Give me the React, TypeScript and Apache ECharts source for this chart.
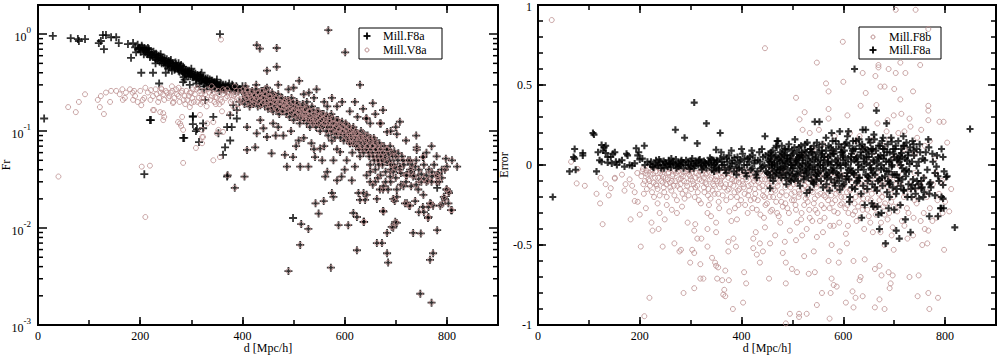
import React, { useEffect, useRef } from "react";
import * as echarts from "echarts";

// ---------------- DATA ----------------
// Left panel: Fr vs d [Mpc/h] (log y)
// Points where Mill.F8a (+) and Mill.V8a (o) coincide
const leftBoth: number[][] = [
  [402,0.27],[405,0.24],[408,0.22],[410,0.26],[412,0.2],[415,0.23],[418,0.25],[420,0.21],[406,0.29],[416,0.19],
  [422,0.24],[424,0.2],[426,0.27],[428,0.22],[430,0.18],[432,0.25],[434,0.21],[436,0.23],[438,0.19],[440,0.26],[427,0.3],
  [442,0.22],[444,0.18],[446,0.24],[448,0.2],[450,0.17],[452,0.23],[454,0.21],[456,0.19],[458,0.25],[460,0.16],[445,0.27],
  [462,0.2],[464,0.22],[466,0.17],[468,0.19],[470,0.24],[472,0.15],[474,0.2],[476,0.18],[478,0.22],[480,0.16],
  [482,0.19],[484,0.21],[486,0.15],[488,0.18],[490,0.2],[492,0.14],[494,0.17],[496,0.22],[498,0.16],[500,0.13],
  [502,0.18],[504,0.15],[506,0.2],[508,0.14],[510,0.16],[512,0.12],[514,0.17],[516,0.14],[518,0.19],[520,0.13],
  [522,0.15],[524,0.17],[526,0.12],[528,0.14],[530,0.16],[532,0.11],[534,0.13],[536,0.18],[538,0.12],[540,0.15],
  [542,0.13],[544,0.11],[546,0.16],[548,0.12],[550,0.14],[552,0.1],[554,0.13],[556,0.15],[558,0.11],[560,0.12],
  [562,0.14],[564,0.1],[566,0.12],[568,0.09],[570,0.13],[572,0.11],[574,0.15],[576,0.1],[578,0.12],[580,0.085],
  [582,0.11],[584,0.13],[586,0.095],[588,0.1],[590,0.12],[592,0.085],[594,0.1],[596,0.11],[598,0.08],[600,0.095],
  [602,0.12],[605,0.085],[608,0.1],[611,0.075],[614,0.09],[617,0.11],[620,0.08],
  [623,0.095],[626,0.07],[629,0.085],[632,0.1],[635,0.065],[638,0.08],[641,0.09],[644,0.07],[647,0.06],[650,0.085],
  [653,0.07],[656,0.055],[659,0.08],[662,0.065],[665,0.05],[668,0.075],[671,0.06],[674,0.045],[677,0.07],[680,0.055],
  [684,0.065],[688,0.05],[692,0.06],[696,0.045],[700,0.055],
  [704,0.05],[708,0.04],[712,0.055],[716,0.045],[720,0.035],[724,0.05],[728,0.04],[732,0.045],[736,0.035],[740,0.05],
  [745,0.04],[750,0.03],[755,0.045],[760,0.035],[765,0.04],[770,0.03],[775,0.045],[780,0.035],[785,0.03],[790,0.04],
  [401,0.21],[403,0.25],[404,0.19],[407,0.23],[409,0.27],[411,0.22],[413,0.24],[414,0.18],[417,0.22],[419,0.26],
  [421,0.19],[423,0.23],[425,0.21],[429,0.25],[431,0.2],[433,0.23],[435,0.185],[437,0.26],[439,0.22],[441,0.2],
  [443,0.245],[447,0.21],[449,0.185],[451,0.25],[453,0.19],[455,0.225],[457,0.17],[459,0.21],[461,0.235],[463,0.18],
  [465,0.2],[467,0.225],[469,0.165],[471,0.2],[473,0.18],[475,0.215],[477,0.16],[479,0.19],[481,0.175],[483,0.2],
  [485,0.185],[487,0.165],[489,0.21],[491,0.17],[493,0.19],[495,0.155],[497,0.18],[499,0.2],
  [501,0.165],[503,0.145],[505,0.175],[507,0.19],[509,0.155],[511,0.17],[513,0.135],[515,0.16],[517,0.18],[519,0.15],
  [521,0.14],[523,0.165],[525,0.15],[527,0.175],[529,0.13],[531,0.145],[533,0.16],[535,0.14],[537,0.125],[539,0.165],
  [541,0.14],[543,0.12],[545,0.15],[547,0.135],[549,0.16],[551,0.125],[553,0.145],[555,0.115],[557,0.135],[559,0.15],
  [561,0.12],[563,0.13],[565,0.145],[567,0.11],[569,0.125],[571,0.14],[573,0.1],[575,0.12],[577,0.135],[579,0.105],
  [581,0.12],[583,0.095],[585,0.115],[587,0.13],[589,0.105],[591,0.095],[593,0.115],[595,0.125],[597,0.1],[599,0.11],
  [601,0.09],[603,0.105],[604,0.115],[606,0.095],[607,0.08],[609,0.11],[610,0.09],[612,0.1],[613,0.085],[615,0.105],
  [616,0.075],[618,0.095],[619,0.085],[621,0.1],[622,0.07],[624,0.085],[625,0.095],[627,0.08],[628,0.065],[630,0.09],
  [631,0.075],[633,0.085],[634,0.07],[636,0.095],[637,0.06],[639,0.075],[640,0.085],[642,0.065],[643,0.08],[645,0.09],
  [646,0.07],[648,0.055],[649,0.075],[651,0.065],[652,0.08],[654,0.06],[655,0.07],[657,0.085],[658,0.05],[660,0.065],
  [661,0.075],[663,0.055],[664,0.07],[666,0.06],[667,0.045],[669,0.065],[670,0.055],[672,0.07],[673,0.05],[675,0.06],
  [678,0.052],[681,0.065],[683,0.048],[686,0.058],[689,0.07],[691,0.045],[694,0.055],[697,0.062],[699,0.042],
  [428,0.77],[434,0.71],[467,0.72],[448,0.42],[467,0.46],[511,0.33],[568,1.1],[601,0.65],[630,0.3],[448,0.28],
  [526,0.2],[566,0.18],[636,0.17],[675,0.165],[643,0.135],[669,0.12],[655,0.194],[642,0.135],[708,0.125],[671,0.12],
  [702,0.093],[683,0.098],[741,0.068],[753,0.054],[798,0.052],[820,0.043],[796,0.04],[783,0.037],[800,0.025],[804,0.023],
  [771,0.034],[763,0.031],[755,0.032],[734,0.034],[722,0.035],[728,0.05],[738,0.043],[714,0.05],[708,0.043],[695,0.038],
  [689,0.034],[675,0.025],[663,0.02],[643,0.022],[702,0.021],[718,0.018],[726,0.017],[753,0.0165],[769,0.0178],[791,0.0178],
  [796,0.02],[808,0.0153],[745,0.0146],[755,0.0146],[763,0.0127],[675,0.015],[699,0.0116],[692,0.0103],[683,0.0089],[734,0.0089],
  [749,0.0088],[781,0.0095],[638,0.0116],
  [371,0.035],[385,0.026],[404,0.034],[490,0.0036],[573,0.0039],[748,0.0021],[770,0.0017],[773,0.0055],[767,0.0047],[685,0.0044],
  [624,0.0059],[515,0.011],[529,0.0098],[513,0.0067],[588,0.0107],[607,0.0107],[663,0.007],[673,0.007],[683,0.0055],[695,0.0101],
  [702,0.0113],[617,0.0143],[624,0.013],[637,0.0116],[676,0.0148],[543,0.018],[549,0.0141],[559,0.019],[764,0.013],[787,0.017],
  [810,0.0153],[803,0.018],[794,0.021],[803,0.024],[799,0.025],[578,0.021],[575,0.023],[585,0.031],[594,0.034],[562,0.034],
  [614,0.031],[627,0.023],[637,0.023],[630,0.0195],[640,0.0195],[669,0.025],[676,0.027],[685,0.025],[702,0.025],
  [695,0.02],[698,0.019],[722,0.018],[728,0.017],[738,0.019],[744,0.025],[754,0.022],[764,0.0165],[767,0.018],[773,0.017],
  [425,0.068],[441,0.107],[409,0.11],[409,0.064],[428,0.095],[448,0.087],[457,0.059],[483,0.057],[487,0.043],[499,0.054],
  [513,0.043],[529,0.043],[542,0.054],[552,0.066],[556,0.05],[566,0.038],[578,0.05],[591,0.061],[604,0.05],[610,0.075],
  [620,0.043],[643,0.035],[705,0.059],[741,0.064],[754,0.054],[800,0.043],[781,0.035],
  [470,0.11],[495,0.1],[520,0.085],[535,0.075],[560,0.07],[585,0.065],[615,0.06],[650,0.045],[660,0.04],[690,0.03],
  [710,0.028],[730,0.027],[650,0.03],[665,0.033],[680,0.038],[600,0.04],[540,0.065],[510,0.08],[480,0.09],[460,0.12],
  [435,0.13],[465,0.09],[505,0.07],[575,0.08],[630,0.055],
  [470,0.3],[490,0.27],[520,0.24],[540,0.22],[560,0.2],[585,0.18],[610,0.16],[625,0.14],[650,0.12],[690,0.1],
  [720,0.08],[760,0.06],[780,0.055],[500,0.28],[530,0.25],[575,0.22],[595,0.2],[545,0.27],[620,0.2],[660,0.15],
  [700,0.11],[740,0.09],[770,0.07],[810,0.05],
  [650,0.038],[660,0.03],[670,0.035],[680,0.03],[690,0.04],[700,0.033],[710,0.037],[720,0.03],[730,0.038],[740,0.028],
  [750,0.036],[760,0.03],[770,0.038],[780,0.03],[790,0.033],[655,0.028],[715,0.027],[745,0.032]
];

// Mill.F8a (+) points with no Mill.V8a circle on them
const leftF8aOnly: number[][] = [
  [12,0.135],[29,0.96],[64,0.91],[78,0.89],[80,0.85],[92,0.89],[119,0.81],[123,0.85],[127,0.98],[133,0.98],
  [129,0.7],[143,0.93],[153,0.93],[158,0.81],[176,0.79],[186,0.81],[190,0.73],[192,0.65],
  [195,0.78],[198,0.72],[200,0.7],[203,0.76],[206,0.68],[208,0.72],[210,0.65],[212,0.7],[215,0.62],[218,0.66],[220,0.6],
  [222,0.64],[225,0.58],[228,0.62],[230,0.55],[232,0.6],[235,0.57],[238,0.52],[240,0.58],[243,0.54],[246,0.5],
  [248,0.56],[250,0.52],[253,0.48],[256,0.53],[258,0.5],
  [261,0.46],[263,0.5],[266,0.47],[268,0.44],[270,0.49],[273,0.45],[275,0.42],[278,0.46],[280,0.43],[283,0.4],
  [285,0.44],[288,0.41],[290,0.38],[293,0.42],[295,0.4],[298,0.37],
  [300,0.41],[303,0.38],[305,0.36],[308,0.39],[310,0.35],[313,0.37],[316,0.34],[318,0.38],[320,0.33],[323,0.36],
  [326,0.32],[328,0.35],[331,0.33],[334,0.31],[336,0.34],[338,0.3],
  [341,0.33],[344,0.31],[346,0.29],[349,0.32],[352,0.3],[355,0.28],[358,0.31],[361,0.29],[364,0.27],[367,0.3],
  [370,0.28],[374,0.31],[378,0.27],[382,0.29],[386,0.26],[390,0.28],[395,0.27],[400,0.29],
  [196,0.7],[201,0.66],[204,0.73],[207,0.62],[211,0.68],[214,0.64],[217,0.7],[219,0.58],[223,0.61],[226,0.66],
  [229,0.57],[231,0.63],[234,0.54],[236,0.6],[239,0.55],[242,0.5],[244,0.57],[247,0.53],[249,0.48],[252,0.55],
  [254,0.5],[257,0.46],[259,0.52],[264,0.48],[267,0.43],[269,0.51],[272,0.47],[274,0.44],[277,0.41],[279,0.47],
  [282,0.42],[284,0.46],[287,0.39],[289,0.43],[292,0.4],[294,0.37],[296,0.42],[299,0.39],[302,0.36],[304,0.4],
  [307,0.37],[309,0.34],[312,0.38],[314,0.35],[317,0.37],[319,0.33],[322,0.35],[324,0.31],[327,0.34],[329,0.32],
  [332,0.35],[335,0.32],[337,0.29],[339,0.33],[342,0.3],[345,0.32],[347,0.28],[350,0.31],[353,0.29],[356,0.3],
  [359,0.27],[362,0.3],[365,0.28],[368,0.26],[372,0.29],[376,0.27],[380,0.3],[384,0.27],[388,0.29],[392,0.26],
  [240,0.62],[260,0.54],[280,0.48],[300,0.44],[320,0.4],[350,0.34],[215,0.72],[275,0.5],
  [230,0.5],[255,0.44],[285,0.36],[310,0.31],[330,0.29],[355,0.26],[250,0.4],[262,0.42],[287,0.34],[297,0.3],
  [316,0.29],[325,0.27],[340,0.27],
  [182,0.57],[202,0.4],[225,0.4],[237,0.31],[221,0.13],[284,0.32],[286,0.085],[303,0.14],[303,0.118],[309,0.1],
  [315,0.077],[303,0.143],[323,0.12],[311,0.105],[284,0.085],[353,0.095],[370,0.11],[366,0.068],[362,0.057],[389,0.135],
  [389,0.165],[394,0.2],[356,1.0],[208,0.036],[327,0.21],[376,0.146],[379,0.11],[323,0.107],[343,0.14],[370,0.034],
  [376,0.08],[382,0.185],[499,0.0127],[781,0.026],[219,0.13]
];

// Mill.V8a (o) points with no Mill.F8a cross on them
const leftV8aOnly: number[][] = [
  [40,0.034],[210,0.013],[358,0.88],[59,0.177],[74,0.157],[80,0.2],[92,0.24],[117,0.21],[123,0.23],[121,0.177],
  [129,0.15],[133,0.25],[143,0.26],[153,0.26],[141,0.2],[166,0.21],[172,0.25],[188,0.26],[186,0.21],[202,0.185],
  [208,0.22],[221,0.265],[241,0.277],[227,0.165],[239,0.157],[247,0.14],[245,0.13],[274,0.124],[280,0.113],[284,0.103],
  [323,0.087],[309,0.067],[225,0.165],[245,0.153],[264,0.195],[282,0.14],[278,0.12],[297,0.177],[317,0.147],[321,0.103],
  [331,0.12],[343,0.124],[321,0.087],[321,0.075],[343,0.05],[284,0.047],[203,0.043],[219,0.044],[353,0.103],[362,0.098],
  [350,0.095],[356,0.054],[783,0.033],
  [160,0.24],[170,0.22],[180,0.27],[190,0.23],[200,0.26],[205,0.21],[215,0.25],[225,0.23],[230,0.27],[235,0.2],
  [245,0.24],[250,0.26],[255,0.22],[260,0.25],[265,0.2],[270,0.27],[275,0.23],[280,0.25],[285,0.21],[290,0.26],
  [295,0.23],[300,0.25],[305,0.2],[310,0.27],[315,0.22],[320,0.24],[325,0.26],[330,0.21],[335,0.25],[340,0.23],
  [345,0.27],[350,0.22],[355,0.24],[360,0.2],[365,0.26],[370,0.23],[375,0.25],[380,0.21],[385,0.24],[390,0.22],
  [395,0.26],[398,0.2],[262,0.29],[312,0.28],[340,0.29],[370,0.27],[288,0.19],[330,0.18],[355,0.19],[382,0.18],
  [360,0.16],[375,0.15],[390,0.17],[300,0.195],[322,0.2],[345,0.2],[385,0.29],[240,0.25],[275,0.28],[210,0.28],
  [165,0.27],[185,0.25],[195,0.2],[220,0.21],
  [232,0.24],[237,0.22],[242,0.27],[247,0.21],[252,0.25],[257,0.23],[263,0.26],[267,0.22],[272,0.24],[277,0.2],
  [282,0.26],[287,0.23],[292,0.21],[297,0.25],[302,0.22],[307,0.24],[312,0.2],[317,0.26],[321,0.22],[327,0.24],
  [332,0.27],[337,0.21],[342,0.245],[347,0.225],[352,0.26],[357,0.21],[362,0.24],[367,0.22],[372,0.25],[377,0.2],
  [383,0.23],[388,0.26],[393,0.21],[397,0.24],[303,0.27],[318,0.19],[348,0.19],[378,0.235],[392,0.19],[362,0.27]
];

// Right panel: Error vs d [Mpc/h]
const rightF8b: number[][] = [
  [27,0.906],[446,0.73],[599,0.77],[548,0.64],[507,0.42],[566,0.51],[571,0.46],[600,0.52],[703,0.97],[742,0.97],
  [767,0.85],[712,0.64],[722,0.575],[703,0.575],[689,0.6],[669,0.625],[669,0.61],[638,0.575],[663,0.556],[673,0.49],
  [681,0.49],[644,0.45],[700,0.475],[712,0.41],[737,0.46],[751,0.625],[767,0.37],[767,0.34],[767,0.28],[789,0.27],
  [797,0.27],[804,0.14],[753,0.22],[732,0.24],[730,0.29],[714,0.32],[699,0.31],[687,0.28],[667,0.26],[665,0.375],
  [634,0.37],[608,0.31],[571,0.35],[571,0.29],[524,0.33],[514,0.285],[520,0.22],[534,0.2],[552,0.22],[583,0.18],
  [613,0.2],[632,0.18],[655,0.155],[685,0.21],[708,0.2],[720,0.21],[65,0.02],[78,-0.025],
  [540,0.1],[560,0.13],[580,0.08],[600,0.12],[620,0.06],[640,0.1],[660,0.08],[680,0.12],[700,0.05],[720,0.1],
  [740,0.07],[760,0.12],[780,0.04],[590,0.03],[650,0.02],[710,0.0],[770,0.15],[745,0.17],[690,0.16],[625,0.15],
  [570,0.05],[520,0.06],[500,0.03],[480,0.05],[460,0.02],
  [76,-0.115],[92,-0.13],[115,-0.18],[122,-0.24],[127,-0.37],[143,-0.145],[139,-0.19],[151,-0.085],[133,-0.12],[172,-0.12],
  [190,-0.17],[190,-0.225],[196,-0.23],[182,-0.34],[200,-0.31],[202,-0.51],[219,-0.83],[209,-0.945],[123,-0.08],[151,-0.08],
  [165,-0.06],[180,-0.09],[195,-0.05],[185,-0.13],[170,-0.16],
  [205,-0.04],[210,-0.1],[215,-0.06],[220,-0.13],[225,-0.03],[230,-0.08],[235,-0.15],[240,-0.05],[245,-0.11],[250,-0.03],
  [255,-0.09],[260,-0.14],[265,-0.06],[270,-0.1],[275,-0.04],[280,-0.12],[285,-0.07],[290,-0.16],[295,-0.03],[300,-0.09],
  [208,-0.18],[228,-0.2],[248,-0.17],[268,-0.19],[288,-0.21],[218,-0.02],[238,-0.02],[258,-0.025],[278,-0.02],[298,-0.035],
  [223,-0.36],[225,-0.41],[237,-0.4],[245,-0.51],[239,-0.3],[235,-0.24],[249,-0.34],[268,-0.49],[278,-0.54],[281,-0.53],
  [286,-0.8],[299,-0.61],[294,-0.36],[253,-0.25],[263,-0.28],[273,-0.3],[283,-0.26],[212,-0.27],
  [303,-0.53],[307,-0.55],[307,-0.41],[307,-0.77],[309,-0.37],[313,-0.46],[321,-0.46],[319,-0.62],[319,-0.71],[325,-0.71],
  [333,-0.51],[333,-0.3],[333,-0.4],[342,-0.58],[348,-0.61],[350,-0.63],[354,-0.64],[368,-0.66],[352,-0.71],[362,-0.72],
  [375,-0.72],[366,-0.78],[364,-0.81],[368,-0.82],[383,-0.9],[350,-0.42],[350,-0.36],[374,-0.48],[374,-0.54],[384,-0.46],
  [389,-0.51],[391,-0.34],
  [302,-0.05],[306,-0.12],[310,-0.08],[314,-0.17],[318,-0.04],[322,-0.1],[326,-0.14],[330,-0.06],[334,-0.19],[338,-0.09],
  [342,-0.03],[346,-0.13],[350,-0.07],[354,-0.18],[358,-0.1],[362,-0.05],[366,-0.14],[370,-0.22],[374,-0.08],[378,-0.12],
  [382,-0.04],[386,-0.17],[390,-0.1],[394,-0.25],[398,-0.06],[316,-0.22],[336,-0.25],[356,-0.27],[376,-0.29],[396,-0.15],
  [328,-0.02],[360,-0.02],[392,-0.03],[340,-0.32],[380,-0.35],
  [403,-0.86],[409,-0.74],[405,-0.67],[423,-0.46],[423,-0.52],[430,-0.56],[436,-0.61],[436,-0.49],[454,-0.71],[442,-0.54],
  [428,-0.42],[446,-0.39],[456,-0.49],[466,-0.44],[487,-0.74],[487,-0.61],[481,-0.55],[487,-0.99],[495,-0.93],[499,-0.65],
  [495,-0.41],[485,-0.48],
  [402,-0.1],[406,-0.18],[410,-0.05],[414,-0.13],[418,-0.22],[422,-0.08],[426,-0.15],[430,-0.28],[434,-0.11],[438,-0.04],
  [442,-0.19],[446,-0.09],[450,-0.24],[454,-0.13],[458,-0.06],[462,-0.2],[466,-0.16],[470,-0.3],[474,-0.1],[478,-0.23],
  [482,-0.05],[486,-0.14],[490,-0.27],[494,-0.09],[498,-0.18],[412,-0.3],[444,-0.33],[476,-0.36],[460,-0.28],[420,-0.035],
  [452,-0.03],[484,-0.03],
  [509,-0.67],[513,-0.93],[513,-0.95],[528,-0.93],[532,-0.68],[523,-0.57],[544,-0.67],[542,-0.54],[548,-0.875],[573,-0.96],
  [558,-0.8],[575,-0.8],[581,-0.75],[587,-0.76],[577,-0.71],[591,-0.61],[571,-0.6],[507,-0.47],[519,-0.44],[509,-0.36],
  [548,-0.45],[577,-0.5],[593,-0.54],[605,-0.43],[607,-0.49],
  [502,-0.12],[506,-0.25],[510,-0.07],[514,-0.18],[518,-0.3],[522,-0.1],[526,-0.21],[530,-0.15],[534,-0.33],[538,-0.06],
  [542,-0.24],[546,-0.12],[550,-0.19],[554,-0.35],[558,-0.09],[562,-0.27],[566,-0.16],[570,-0.22],[574,-0.38],[578,-0.11],
  [582,-0.29],[586,-0.18],[590,-0.07],[594,-0.25],[598,-0.14],[516,-0.04],[548,-0.04],[580,-0.05],[528,-0.4],[560,-0.42],
  [592,-0.36],
  [605,-0.86],[618,-0.79],[624,-0.83],[620,-0.89],[638,-0.82],[632,-0.72],[634,-0.7],[620,-0.6],[642,-0.59],[662,-0.65],
  [671,-0.63],[675,-0.69],[689,-0.67],[697,-0.69],[693,-0.74],[691,-0.77],[671,-0.84],[662,-0.89],[681,-0.9],[658,-0.42],
  [681,-0.5],[695,-0.44],[699,-0.53],
  [602,-0.2],[606,-0.1],[610,-0.3],[614,-0.15],[618,-0.05],[622,-0.24],[626,-0.35],[630,-0.12],[634,-0.19],[638,-0.28],
  [642,-0.08],[646,-0.16],[650,-0.32],[654,-0.22],[658,-0.11],[662,-0.27],[666,-0.05],[670,-0.18],[674,-0.36],[678,-0.13],
  [682,-0.24],[686,-0.09],[690,-0.3],[694,-0.15],[698,-0.2],
  [730,-0.7],[748,-0.69],[746,-0.82],[767,-0.8],[769,-0.9],[786,-0.83],[798,-0.53],[783,-0.33],[808,-0.29],[765,-0.49],
  [755,-0.5],[767,-0.41],[737,-0.44],[726,-0.46],
  [704,-0.12],[710,-0.25],[716,-0.06],[722,-0.18],[728,-0.3],[734,-0.1],[740,-0.22],[746,-0.14],[752,-0.35],[758,-0.08],
  [764,-0.2],[770,-0.27],[776,-0.12],[782,-0.05],[788,-0.18],[794,-0.1],[800,-0.23],[812,-0.15],[740,-0.05],[720,-0.38],
  [760,-0.4],
  [203,-0.07],[207,-0.12],[211,-0.05],[214,-0.15],[217,-0.09],[221,-0.06],[224,-0.17],[227,-0.11],[231,-0.04],[233,-0.13],
  [236,-0.08],[239,-0.19],[242,-0.1],[244,-0.06],[247,-0.14],[251,-0.08],[253,-0.2],[256,-0.05],[259,-0.11],[262,-0.16],
  [264,-0.07],[267,-0.13],[271,-0.05],[273,-0.22],[276,-0.09],[279,-0.15],[282,-0.06],[284,-0.18],[287,-0.1],[291,-0.04],
  [293,-0.13],[296,-0.19],[299,-0.07],
  [301,-0.15],[304,-0.1],[308,-0.2],[311,-0.05],[313,-0.13],[317,-0.09],[320,-0.24],[323,-0.06],[327,-0.17],[329,-0.11],
  [332,-0.05],[335,-0.15],[339,-0.21],[341,-0.08],[344,-0.12],[347,-0.18],[349,-0.04],[352,-0.1],[355,-0.23],[357,-0.14],
  [361,-0.08],[363,-0.19],[367,-0.06],[369,-0.12],[372,-0.16],[376,-0.05],[379,-0.2],[381,-0.09],[384,-0.13],[387,-0.27],
  [389,-0.07],[393,-0.16],[395,-0.11],[399,-0.22],
  [401,-0.07],[404,-0.14],[407,-0.25],[409,-0.09],[413,-0.19],[416,-0.06],[419,-0.12],[421,-0.27],[424,-0.1],[427,-0.18],
  [429,-0.07],[432,-0.22],[435,-0.14],[437,-0.31],[440,-0.09],[443,-0.16],[447,-0.25],[449,-0.06],[451,-0.12],[455,-0.2],
  [457,-0.29],[459,-0.1],[463,-0.15],[465,-0.07],[468,-0.23],[471,-0.13],[473,-0.32],[477,-0.08],[479,-0.17],[481,-0.26],
  [485,-0.11],[488,-0.19],[491,-0.07],[493,-0.3],[496,-0.14],[499,-0.22],
  [501,-0.08],[504,-0.17],[507,-0.28],[509,-0.12],[512,-0.2],[515,-0.09],[517,-0.34],[520,-0.15],[523,-0.25],[525,-0.06],
  [529,-0.19],[531,-0.11],[533,-0.28],[536,-0.16],[539,-0.35],[541,-0.09],[544,-0.21],[547,-0.14],[549,-0.3],[552,-0.07],
  [555,-0.18],[557,-0.25],[561,-0.12],[563,-0.33],[565,-0.2],[568,-0.08],[571,-0.15],[573,-0.27],[576,-0.19],[579,-0.1],
  [581,-0.38],[584,-0.22],[587,-0.13],[589,-0.3],[592,-0.17],[595,-0.06],[597,-0.24],
  [601,-0.13],[604,-0.27],[607,-0.17],[609,-0.38],[612,-0.09],[615,-0.22],[619,-0.31],[621,-0.14],[624,-0.2],[627,-0.08],
  [629,-0.26],[633,-0.33],[636,-0.12],[639,-0.21],[641,-0.4],[644,-0.16],[647,-0.28],[649,-0.1],[653,-0.36],[656,-0.18],
  [659,-0.25],[661,-0.07],[664,-0.31],[668,-0.15],[671,-0.22],[673,-0.42],[677,-0.11],[679,-0.26],[683,-0.18],[687,-0.34],
  [691,-0.09],[694,-0.23],[697,-0.39],[702,-0.17],[706,-0.29],[711,-0.12],[715,-0.35],[719,-0.2],[725,-0.27],[731,-0.15],
  [738,-0.33],[744,-0.24],[751,-0.12],[758,-0.3],[766,-0.17],[775,-0.35],[785,-0.22],[795,-0.3],
  [206,-0.025],[213,-0.035],[219,-0.1],[226,-0.055],[232,-0.12],[241,-0.035],[246,-0.075],[252,-0.12],[257,-0.045],[263,-0.1],
  [269,-0.035],[274,-0.13],[281,-0.085],[286,-0.045],[292,-0.11],[297,-0.06],[303,-0.025],[309,-0.14],[315,-0.065],[321,-0.035],
  [326,-0.08],[331,-0.12],[337,-0.045],[343,-0.16],[348,-0.09],[353,-0.035],[359,-0.12],[364,-0.07],[371,-0.03],[375,-0.15],
  [380,-0.06],[386,-0.1],[391,-0.2],[397,-0.045],[403,-0.12],[408,-0.035],[415,-0.16],[421,-0.06],[425,-0.21],[431,-0.1],
  [436,-0.05],[441,-0.13],[445,-0.2],[453,-0.08],[458,-0.17],[464,-0.04],[469,-0.11],[475,-0.19],[480,-0.06],[486,-0.24],
  [492,-0.12],[497,-0.05],[503,-0.22],[508,-0.1],[513,-0.16],[519,-0.06],[524,-0.13],[530,-0.23],[535,-0.09],[540,-0.17],
  [545,-0.28],[551,-0.11],[556,-0.05],[562,-0.19],[567,-0.13],[574,-0.06],[578,-0.24],[583,-0.15],[588,-0.09],[596,-0.2],
  [603,-0.07],[608,-0.25],[613,-0.16],[617,-0.11],[623,-0.29],[628,-0.06],[632,-0.18],[637,-0.24],[643,-0.13],[648,-0.21],
  [654,-0.06],[660,-0.15],[665,-0.26],[672,-0.1],[676,-0.2],[681,-0.31],[688,-0.14],[693,-0.06],[699,-0.26],[705,-0.09]
];

const rightF8a: number[][] = [
  [29,-0.2],[62,-0.04],[72,0.04],[72,0.1],[74,-0.03],[70,0.05],[88,0.075],[88,0.06],[108,0.2],[110,0.19],
  [115,-0.04],[118,0.08],[121,0.03],[125,0.125],[130,0.11],[133,0.12],[128,0.09],[125,0.02],[133,0.075],[137,0.05],
  [137,0.015],[143,0.05],[147,0.07],[151,0.08],[153,0.02],[160,0.02],[170,-0.01],[174,0.07],[176,0.06],[193,0.105],
  [196,0.06],[198,0.08],[200,0.035],[209,0.12],[205,0.04],[190,0.01],[185,-0.005],[180,0.0],[165,0.03],[155,0.0],
  [145,0.01],[210,0.0],[215,0.02],[220,0.005],[225,-0.01],
  [230,0.01],[235,-0.005],[240,0.02],[245,0.0],[250,0.015],[255,-0.01],[260,0.005],[265,0.02],[270,0.0],[275,0.01],
  [280,-0.005],[285,0.015],[290,0.0],[295,0.02],[300,-0.01],[305,0.01],[310,0.025],[315,0.0],[320,0.015],[325,-0.01],
  [330,0.005],[335,0.02],[340,0.0],[345,0.03],[350,-0.015],[238,0.035],[262,0.04],[282,0.03],[303,0.04],[318,0.035],
  [338,0.045],[248,-0.02],[272,-0.02],[298,-0.025],[322,-0.03],[342,-0.03],[258,0.01],[278,0.005],[308,-0.005],[328,0.015],
  [348,0.01],
  [222,0.02],[227,-0.015],[232,0.03],[237,0.0],[242,-0.02],[247,0.025],[252,0.005],[257,0.03],[261,-0.015],[266,0.01],
  [271,0.035],[276,-0.01],[281,0.02],[286,-0.02],[291,0.03],[296,0.0],[301,0.025],[306,-0.02],[311,0.01],[316,0.03],
  [321,-0.005],[326,0.025],[331,-0.02],[336,0.01],[341,0.035],[346,0.0],[351,0.03],[356,-0.03],[361,0.02],[366,0.0],
  [371,0.04],[376,-0.02],[381,0.01],[386,0.045],[391,-0.015],[396,0.02],[401,-0.03],[406,0.04],[411,0.0],[416,0.05],
  [421,-0.02],[426,0.03],[431,-0.04],[436,0.02],[441,-0.01],[447,0.06],
  [270,0.22],[288,0.17],[313,0.135],[331,0.26],[358,0.2],[307,0.39],[346,-0.04],[350,0.095],
  [352,0.02],[355,-0.02],[358,0.04],[362,0.0],[365,0.05],[368,-0.03],[372,0.02],[375,0.06],[378,-0.01],[382,0.03],
  [385,-0.04],[388,0.01],[392,0.05],[395,-0.02],[398,0.03],[402,0.07],[405,0.0],[408,-0.05],[412,0.04],[415,0.02],
  [418,-0.03],[422,0.06],[425,0.01],[428,-0.06],[432,0.03],[435,0.08],[438,-0.02],[442,0.05],[445,0.0],[448,-0.04],
  [360,0.08],[380,0.09],[400,0.1],[420,0.09],[440,0.1],[370,-0.05],[390,-0.06],[410,-0.07],[430,-0.08],[446,0.18],
  [452,0.03],[455,-0.06],[458,0.08],[460,0.0],[462,-0.1],[465,0.05],[468,0.12],[470,-0.03],[472,0.15],[475,0.02],
  [478,-0.08],[480,0.07],[483,-0.02],[486,0.1],[488,-0.12],[490,0.04],[493,0.13],[495,-0.05],[498,0.0],[500,0.09],
  [503,-0.09],[505,0.16],[508,0.03],[510,-0.04],[513,0.11],[515,-0.13],[518,0.06],[520,0.01],[523,-0.07],[525,0.13],
  [528,-0.175],[530,0.04],[533,-0.02],[535,0.1],[534,-0.155],[538,-0.1],[540,0.07],[543,0.0],[544,0.27],[546,-0.06],
  [548,0.14],[550,0.02],[553,0.27],[456,-0.145],[470,0.15],[485,0.06],[497,-0.1],[512,0.05],[527,0.08],[542,-0.12],
  [555,-0.04],[558,0.09],[560,-0.14],[563,0.05],[566,0.17],[568,-0.08],[570,0.02],[573,-0.16],[575,0.11],[577,0.2],
  [578,-0.03],[580,0.07],[583,-0.11],[585,0.15],[587,0.0],[590,-0.06],[593,0.21],[593,-0.155],[595,0.08],[598,-0.13],
  [600,0.03],[603,0.13],[605,-0.09],[608,0.18],[610,0.21],[612,-0.23],[613,-0.2],[615,0.05],[617,-0.04],[620,0.1],
  [622,0.6],[623,-0.15],[625,0.15],[628,0.02],[630,-0.08],[632,0.12],[635,-0.18],[636,-0.33],[638,0.22],[640,0.04],
  [642,-0.25],[644,0.22],[645,0.08],[648,-0.1],[650,0.16],[656,-0.24],[659,-0.26],
  [652,0.0],[655,0.1],[658,-0.05],[660,0.19],[662,-0.14],[665,0.34],[667,-0.26],[668,0.05],[669,-0.31],[671,-0.4],
  [672,0.12],[675,-0.3],[676,-0.08],[678,0.17],[680,-0.02],[683,-0.49],[685,0.26],[686,0.08],[689,-0.27],[690,-0.12],
  [691,-0.2],[693,0.03],[695,0.145],[697,-0.06],[700,-0.28],[702,0.1],[704,-0.41],[705,-0.15],[707,0.04],[710,-0.46],
  [712,-0.25],[713,0.0],[714,0.075],[716,-0.09],[718,-0.155],[720,0.12],[722,-0.34],[724,-0.03],[727,0.06],[730,0.006],
  [732,-0.42],[734,-0.2],[736,-0.125],[736,0.15],[738,0.09],[741,-0.145],[744,-0.006],[745,-0.1],[748,-0.12],[749,-0.21],
  [751,0.08],[753,-0.145],[755,-0.14],[757,-0.2],[760,0.03],
  [767,0.16],[769,-0.18],[769,-0.12],[769,-0.32],[771,-0.11],[775,0.07],[780,-0.05],[783,-0.01],[786,-0.07],[786,-0.32],
  [791,-0.27],[792,-0.27],[793,-0.2],[796,-0.21],[796,-0.125],[796,0.05],[797,-0.27],[802,-0.075],[804,-0.07],[819,-0.39],
  [849,0.225],
  [455,0.02],[460,-0.02],[465,0.0],[470,0.03],[475,-0.03],[480,0.01],[485,-0.01],[490,0.02],[495,0.03],[500,-0.02],
  [505,0.01],[510,0.04],[515,-0.01],[520,0.03],[525,-0.03],[530,0.0],[535,0.02],[540,-0.03],[545,0.04],[550,-0.01],
  [555,0.03],[560,0.0],[565,-0.03],[570,0.05],[575,0.0],[580,-0.04],[585,0.03],[590,0.01],[595,-0.02],[600,0.05],
  [605,0.0],[610,-0.03],[615,0.02],[620,-0.05],[625,0.04],[630,0.0],[635,0.06],[640,-0.03],[645,0.01],[650,0.05],
  [655,-0.03],[660,0.02],[665,-0.02],[670,0.04],[675,0.0],[680,0.06],[685,-0.04],[690,0.02],[695,-0.01],[700,0.05],
  [705,-0.06],[710,0.02],[715,0.05],[720,-0.04],[725,0.03],
  [458,0.06],[468,-0.05],[478,0.05],[488,-0.06],[498,0.06],[508,-0.06],[518,0.08],[528,-0.05],[538,0.08],[548,-0.07],
  [558,0.07],[568,-0.06],[578,0.09],[588,-0.08],[598,0.08],[608,-0.07],[618,0.09],[628,-0.1],[638,0.1],[648,-0.07],
  [658,0.1],[668,-0.1],[678,0.1],[688,-0.1],[698,0.1],[708,-0.1],[718,0.12],[728,-0.12],[738,0.13],[748,0.02],[758,-0.08],
  [451,-0.05],[453,0.07],[454,-0.01],[456,0.04],[457,-0.08],[459,0.02],[461,0.09],[463,-0.04],[464,0.01],[466,-0.07],
  [467,0.06],[469,0.11],[471,-0.01],[473,0.04],[474,-0.06],[476,0.08],[477,-0.02],[479,0.12],[481,-0.05],[482,0.03],
  [484,0.09],[486,-0.08],[487,0.01],[489,0.06],[491,-0.03],[492,0.1],[494,-0.09],[496,0.04],[497,0.0],[499,-0.06],
  [501,0.07],[502,-0.02],[504,0.11],[506,-0.07],[507,0.02],[509,0.08],[511,-0.1],[512,0.0],[514,0.06],[516,-0.05],
  [517,0.12],[519,-0.02],[521,0.05],[522,-0.09],[524,0.09],[526,0.01],[527,-0.04],[529,0.14],[531,-0.08],[532,0.06],
  [534,-0.01],[536,0.1],[537,-0.06],[539,0.03],[541,-0.11],[542,0.12],[544,-0.03],[546,0.05],[547,-0.09],[549,0.08],
  [551,-0.05],[552,0.11],[554,0.0],[556,-0.1],[557,0.06],[559,0.13],[561,-0.02],[562,0.03],[564,-0.07],[566,0.09],
  [567,-0.12],[569,0.01],[571,0.12],[572,-0.05],[574,0.06],[576,-0.09],[577,0.02],[579,0.15],[581,-0.02],[582,0.07],
  [584,-0.13],[586,0.1],[587,-0.05],[589,0.04],[591,0.13],[592,-0.1],[594,0.0],[596,0.11],[597,-0.07],[599,0.06],
  [601,-0.12],[602,0.09],[604,0.01],[606,0.14],[607,-0.05],[609,0.04],[611,-0.09],[612,0.12],[614,-0.02],[616,0.07],
  [617,-0.14],[619,0.15],[621,-0.06],[622,0.03],[624,0.1],[626,-0.11],[627,0.05],[629,-0.03],[631,0.16],[632,-0.08],
  [634,0.08],[636,-0.01],[637,0.13],[639,-0.13],[641,0.02],[642,0.11],[644,-0.06],[646,0.05],[647,-0.15],[649,0.09],
  [651,-0.08],[653,0.14],[654,-0.02],[656,0.07],[657,-0.12],[659,0.03],[661,0.16],[662,-0.06],[664,0.09],[666,-0.16],
  [667,0.01],[669,0.12],[671,-0.09],[673,0.06],[674,-0.03],[676,0.15],[677,-0.13],[679,0.04],[681,0.1],[682,-0.07],
  [684,0.02],[686,-0.17],[687,0.13],[689,-0.04],[691,0.08],[692,-0.11],[694,0.17],[696,0.0],[697,-0.14],[699,0.07],
  [701,-0.06],[703,0.12],[704,-0.18],[706,0.03],[708,0.15],[709,-0.08],[711,0.06],[713,-0.13],[714,0.1],[716,-0.02],
  [718,0.18],[719,-0.16],[721,0.04],[723,-0.07],[724,0.14],[726,-0.2],[728,0.08],[729,-0.04],[731,0.11],[733,-0.15],
  [735,0.02],[737,-0.09],[739,0.06],[742,-0.18],[744,0.1],[747,-0.05],[750,0.13],[753,-0.1],[756,0.04],[759,-0.17],
  [762,0.08],[765,-0.03],[768,0.11],[772,-0.14],[776,0.02],[780,-0.19],[784,0.06],[788,-0.1],[793,0.1],[798,-0.04]
];

// Axis tick values
const leftYMinorTicks: number[] = [
  0.002,0.003,0.004,0.005,0.006,0.007,0.008,0.009,
  0.02,0.03,0.04,0.05,0.06,0.07,0.08,0.09,
  0.2,0.3,0.4,0.5,0.6,0.7,0.8,0.9
];
const errorTopLabel = "1";
const leftLegend = ["Mill.F8a", "Mill.V8a"];
const rightLegend = ["Mill.F8b", "Mill.F8a"];

// ---------------- CHART ----------------
const FONT = "Liberation Serif, Times New Roman, serif";
const PINK = "#bc8f8f";
const PLUS = "path://M3.1,0h1.8v3.1h3.1v1.8h-3.1v3.1h-1.8v-3.1h-3.1v-1.8h3.1z";
const PLUS_BOLD = "path://M2.8,0h2.4v2.8h2.8v2.4h-2.8v2.8h-2.4v-2.8h-2.8v-2.4h2.8z";

const lbl = { fontFamily: FONT, fontSize: 12, color: "#000" };

function xAxes(gridIndex: number) {
  const base = {
    gridIndex, type: "value" as const, min: 0, max: 900, splitLine: { show: false },
    axisLine: { show: true, onZero: false, lineStyle: { color: "#000", width: 2 } },
  };
  return [
    { ...base, position: "bottom", interval: 200,
      axisTick: { show: true, inside: true, length: 8, lineStyle: { color: "#000", width: 1.5 } },
      axisLabel: { ...lbl, margin: 5, formatter: (v: number) => (v % 200 === 0 ? String(v) : "") },
      name: "d [Mpc/h]", nameLocation: "middle", nameGap: 17, nameMoveOverlap: false,
      nameTextStyle: { ...lbl } },
    { ...base, position: "bottom", interval: 100,
      axisTick: { show: true, inside: true, length: 5, lineStyle: { color: "#000", width: 1.5 } },
      axisLabel: { show: false } },
    { ...base, position: "top", interval: 200,
      axisTick: { show: true, inside: true, length: 8, lineStyle: { color: "#000", width: 1.5 } },
      axisLabel: { show: false } },
    { ...base, position: "top", interval: 100,
      axisTick: { show: true, inside: true, length: 5, lineStyle: { color: "#000", width: 1.5 } },
      axisLabel: { show: false } },
  ];
}

function legendGraphic(x: number, y: number, w: number, h: number, iconX: number, textX: number,
                       rows: { name: string; y: number; plus: boolean }[]) {
  const children: any[] = [
    { type: "rect", shape: { x, y, width: w, height: h }, style: { fill: "#fff", stroke: "#000", lineWidth: 1 } },
  ];
  rows.forEach((r) => {
    if (r.plus) {
      children.push({ type: "line", shape: { x1: iconX - 3.5, y1: r.y, x2: iconX + 3.5, y2: r.y }, style: { stroke: "#000", lineWidth: 1.8 } });
      children.push({ type: "line", shape: { x1: iconX, y1: r.y - 3.5, x2: iconX, y2: r.y + 3.5 }, style: { stroke: "#000", lineWidth: 1.8 } });
    } else {
      children.push({ type: "circle", shape: { cx: iconX, cy: r.y, r: 2 }, style: { fill: "none", stroke: PINK, lineWidth: 1 } });
    }
    children.push({ type: "text", x: textX, y: r.y, style: { text: r.name, fontFamily: FONT, fontSize: 12, fill: "#000", verticalAlign: "middle", align: "left" } });
  });
  return { type: "group", z: 100, children };
}

function App() {
  const ref = useRef<HTMLDivElement>(null);
  useEffect(() => {
    if (!ref.current) return;
    const chart = echarts.init(ref.current, null, { renderer: "svg" });
    const logLabel = (v: number) => {
      const e = Math.log10(v);
      if (Math.abs(e - Math.round(e)) > 1e-6) return "";
      return `{b|10}{s|${Math.round(e)}}`;
    };
    const yLine = { show: true, onZero: false, lineStyle: { color: "#000", width: 2 } };
    const logY = {
      gridIndex: 0, type: "log" as const, logBase: 10, min: 0.001, max: 2, interval: 1,
      splitLine: { show: false }, axisLine: yLine,
      axisTick: { show: true, inside: true, length: 9, lineStyle: { color: "#000", width: 1.5 } },
    };
    const errBase = {
      gridIndex: 1, type: "value" as const, min: -1, max: 1, splitLine: { show: false }, axisLine: yLine,
    };
    const option: any = {
      animation: false,
      backgroundColor: "#fff",
      grid: [
        { left: 38, top: 5, width: 460, height: 320, outerBoundsMode: "none", containLabel: false },
        { left: 538, top: 5, width: 458, height: 320, outerBoundsMode: "none", containLabel: false },
      ],
      xAxis: [...xAxes(0), ...xAxes(1)],
      yAxis: [
        { ...logY, position: "left",
          axisLabel: {
            ...lbl, margin: 7, formatter: logLabel,
            rich: {
              b: { fontFamily: FONT, fontSize: 12, color: "#000", lineHeight: 18, verticalAlign: "bottom" },
              s: { fontFamily: FONT, fontSize: 9, color: "#000", lineHeight: 10, verticalAlign: "top" },
            },
          },
          name: "Fr", nameLocation: "middle", nameGap: 26, nameMoveOverlap: false, nameTextStyle: { ...lbl } },
        { ...logY, position: "right", axisLabel: { show: false } },
        { ...errBase, position: "left", interval: 0.5,
          axisTick: { show: true, inside: true, length: 8, lineStyle: { color: "#000", width: 1.5 } },
          axisLabel: { ...lbl, margin: 6, formatter: (v: number) => (v >= 1 ? "" : String(v)) },
          name: "Error", nameLocation: "middle", nameGap: 28, nameMoveOverlap: false, nameTextStyle: { ...lbl } },
        { ...errBase, position: "left", interval: 0.1,
          axisTick: { show: true, inside: true, length: 5, lineStyle: { color: "#000", width: 1.5 } },
          axisLabel: { show: false } },
        { ...errBase, position: "right", interval: 0.5,
          axisTick: { show: true, inside: true, length: 8, lineStyle: { color: "#000", width: 1.5 } },
          axisLabel: { show: false } },
        { ...errBase, position: "right", interval: 0.1,
          axisTick: { show: true, inside: true, length: 5, lineStyle: { color: "#000", width: 1.5 } },
          axisLabel: { show: false } },
      ],
      graphic: [
        legendGraphic(359, 28, 83, 31, 367, 383, [
          { name: leftLegend[0], y: 36, plus: true },
          { name: leftLegend[1], y: 50, plus: false },
        ]),
        legendGraphic(859, 27, 82, 32, 873, 889, [
          { name: rightLegend[0], y: 37, plus: false },
          { name: rightLegend[1], y: 50, plus: true },
        ]),
        { type: "text", x: 532, y: 1, z: 100,
          style: { text: errorTopLabel, fontFamily: FONT, fontSize: 12, fill: "#000", align: "right", verticalAlign: "top" } },
      ],
      series: [
        { name: "Mill.F8a", type: "scatter", xAxisIndex: 0, yAxisIndex: 0,
          data: [...leftF8aOnly, ...leftBoth], symbol: PLUS, symbolSize: 8,
          itemStyle: { color: "#000" }, silent: true },
        { name: "Mill.V8a", type: "scatter", xAxisIndex: 0, yAxisIndex: 0,
          data: [...leftV8aOnly, ...leftBoth], symbol: "circle", symbolSize: 5,
          itemStyle: { color: "rgba(255,255,255,0)", borderColor: PINK, borderWidth: 1 }, silent: true },
        { name: "logMinor", type: "custom", xAxisIndex: 0, yAxisIndex: 0, silent: true, z: 5,
          data: leftYMinorTicks.map((v) => [0, v]),
          renderItem: (params: any, api: any) => {
            const y = api.coord([0, api.value(1)])[1];
            const cs = params.coordSys;
            const st = { stroke: "#000", lineWidth: 1.5 };
            return { type: "group", children: [
              { type: "line", shape: { x1: cs.x, y1: y, x2: cs.x + 5, y2: y }, style: st },
              { type: "line", shape: { x1: cs.x + cs.width, y1: y, x2: cs.x + cs.width - 5, y2: y }, style: st },
            ] };
          } },
        { name: "Mill.F8b", type: "scatter", xAxisIndex: 4, yAxisIndex: 2,
          data: rightF8b, symbol: "circle", symbolSize: 5,
          itemStyle: { color: "rgba(255,255,255,0)", borderColor: PINK, borderWidth: 1 }, silent: true },
        { name: "Mill.F8a", type: "scatter", xAxisIndex: 4, yAxisIndex: 2,
          data: rightF8a, symbol: PLUS_BOLD, symbolSize: 7,
          itemStyle: { color: "#000" }, silent: true },
      ],
    };
    chart.setOption(option);
    return () => chart.dispose();
  }, []);
  return <div ref={ref} style={{ position: "absolute", left: 0, top: 0, width: 998, height: 357 }} />;
}

export default App;
